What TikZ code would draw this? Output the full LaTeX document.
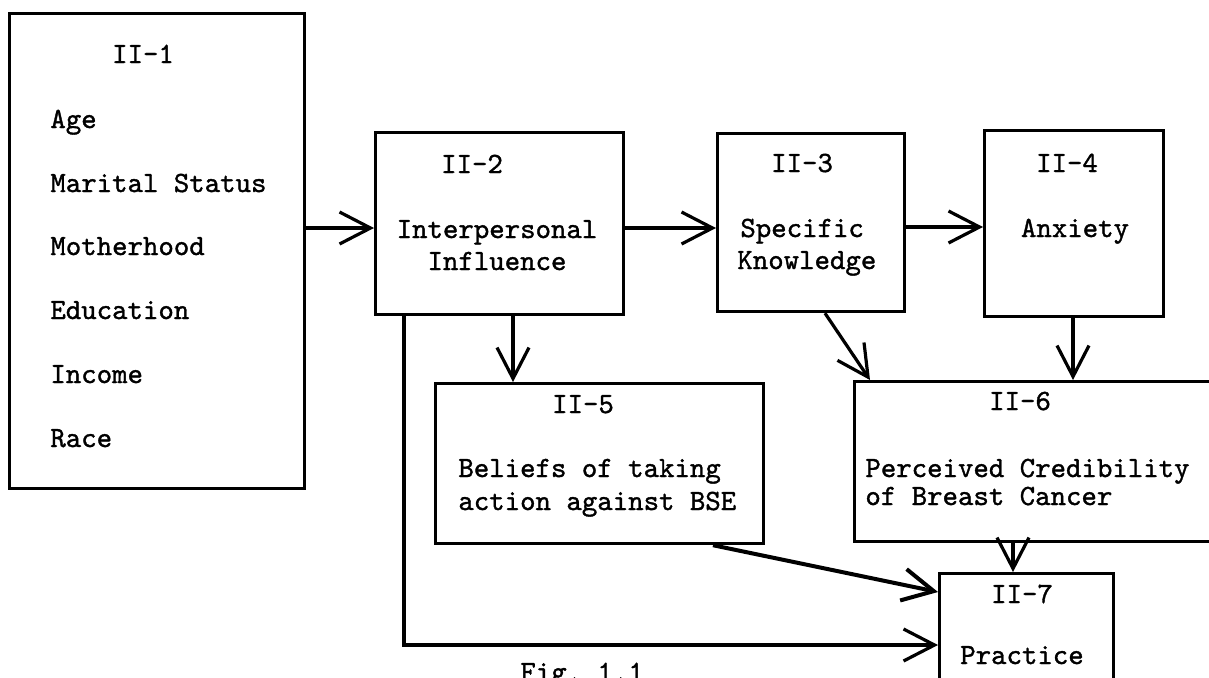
\documentclass[tikz,border=0pt]{standalone}
\usepackage{fontspec}
\setmonofont{lmmono10-regular.otf}[FakeBold=1.2]
\usetikzlibrary{arrows.meta}
\begin{document}
\begin{tikzpicture}[x=0.5pt,y=-0.5pt,
  box/.style={draw, line width=1.6pt, inner sep=0pt, anchor=north west},
  lbl/.style={font=\ttfamily\fontsize{14.7pt}{16pt}\selectfont, inner sep=0pt},
  conn/.style={line width=1.6pt, -{Straight Barb[length=15.5pt,width=16pt]}},
]
\useasboundingbox (0,0) rectangle (1209,677);
\clip (0,0) rectangle (1209,677);
\fill[white] (0,0) rectangle (1209,677);

% boxes
\node[box, minimum width=147.5pt, minimum height=237.5pt] (b1) at (8,12) {};
\node[box, minimum width=124pt, minimum height=91pt] (b2) at (374,131) {};
\node[box, minimum width=93.5pt, minimum height=89pt] (b3) at (716,132) {};
\node[box, minimum width=89.5pt, minimum height=93pt] (b4) at (983,129) {};
\node[box, minimum width=164pt, minimum height=80pt] (b5) at (434,382) {};
\node[box, minimum width=190pt, minimum height=80pt] (b6) at (853,380) {};
\node[box, minimum width=87pt, minimum height=70pt] (b7) at (938,572) {};

% texts
\node[lbl, anchor=base] (t1) at (143,63) {II-1};
\node[lbl, anchor=base west] (t1a) at (50,128) {Age};
\node[lbl, anchor=base west] (t1b) at (50,192) {Marital Status};
\node[lbl, anchor=base west] (t1c) at (50,255) {Motherhood};
\node[lbl, anchor=base west] (t1d) at (50,319) {Education};
\node[lbl, anchor=base west] (t1e) at (50,383) {Income};
\node[lbl, anchor=base west] (t1f) at (50,447) {Race};

\node[lbl, anchor=base] (t2) at (472,173) {II-2};
\node[lbl, anchor=base] (t2a) at (497,238) {Interpersonal};
\node[lbl, anchor=base] (t2b) at (497,270) {Influence};

\node[lbl, anchor=base] (t3) at (802,172) {II-3};
\node[lbl, anchor=base west] (t3a) at (740,237) {Specific};
\node[lbl, anchor=base west] (t3b) at (737,269) {Knowledge};

\node[lbl, anchor=base] (t4) at (1067,172) {II-4};
\node[lbl, anchor=base] (t4a) at (1075,237) {Anxiety};

\node[lbl, anchor=base] (t5) at (583,413) {II-5};
\node[lbl, anchor=base west] (t5a) at (458,477) {Beliefs of taking};
\node[lbl, anchor=base west] (t5b) at (458,510) {action against BSE};

\node[lbl, anchor=base] (t6) at (1020,410) {II-6};
\node[lbl, anchor=base west] (t6a) at (865,477) {Perceived Credibility};
\node[lbl, anchor=base west] (t6b) at (865,505) {of Breast Cancer};

\node[lbl, anchor=base] (t7) at (1022,603) {II-7};
\node[lbl, anchor=base] (t7a) at (1022,664) {Practice};

\node[lbl, anchor=base west] (cap) at (520,681) {Fig. 1.1};

% connectors
\coordinate (ya) at (0,228);
\coordinate (yb) at (0,227);
\draw[conn] (b1.east |- ya) -- (b2.west |- ya);
\draw[conn] (b2.east |- ya) -- (b3.west |- ya);
\draw[conn] (b3.east |- yb) -- (b4.west |- yb);

\coordinate (x25) at (513,0);
\draw[conn] (b2.south -| x25) -- (b5.north -| x25);

\coordinate (x36a) at (825,0);
\coordinate (x36b) at (870,0);
\draw[conn] (b3.south -| x36a) -- (b6.north -| x36b);

\coordinate (x46) at (1073,0);
\draw[conn] (b4.south -| x46) -- (b6.north -| x46);

\coordinate (x67) at (1013,0);
\draw[conn] (b6.south -| x67) -- (b7.north -| x67);

\coordinate (x57) at (713,0);
\coordinate (y57) at (0,592);
\draw[conn, line width=2pt] (b5.south -| x57) -- (b7.west |- y57);

\coordinate (xfb) at (404,0);
\coordinate (yfb) at (0,645);
\draw[conn] (b2.south -| xfb) -- (xfb |- yfb) -- (b7.west |- yfb);
\end{tikzpicture}
\end{document}
